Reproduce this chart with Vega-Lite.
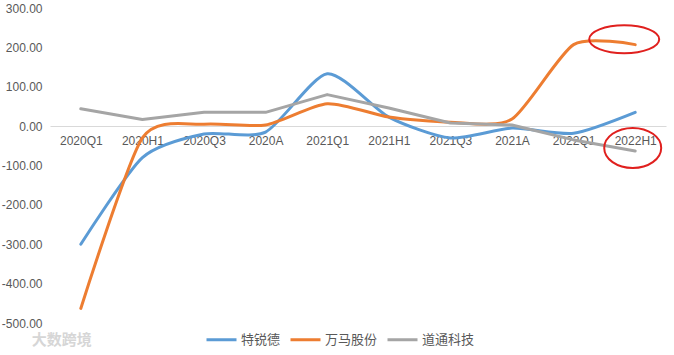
{
  "$schema": "https://vega.github.io/schema/vega-lite/v6.json",
  "width": 616,
  "height": 315,
  "autosize": {"type": "none"},
  "padding": {"left": 50, "top": 8, "right": 8, "bottom": 32},
  "background": "white",
  "config": {
    "view": {"stroke": null},
    "font": "Liberation Sans"
  },
  "datasets": {
    "series": [
      {"period": "2020Q1", "company": "特锐德", "value": -300},
      {"period": "2020H1", "company": "特锐德", "value": -80},
      {"period": "2020Q3", "company": "特锐德", "value": -20},
      {"period": "2020A", "company": "特锐德", "value": -15},
      {"period": "2021Q1", "company": "特锐德", "value": 133},
      {"period": "2021H1", "company": "特锐德", "value": 23},
      {"period": "2021Q3", "company": "特锐德", "value": -30},
      {"period": "2021A", "company": "特锐德", "value": -5},
      {"period": "2022Q1", "company": "特锐德", "value": -18},
      {"period": "2022H1", "company": "特锐德", "value": 35},
      {"period": "2020Q1", "company": "万马股份", "value": -463},
      {"period": "2020H1", "company": "万马股份", "value": -30},
      {"period": "2020Q3", "company": "万马股份", "value": 5},
      {"period": "2020A", "company": "万马股份", "value": 3},
      {"period": "2021Q1", "company": "万马股份", "value": 57},
      {"period": "2021H1", "company": "万马股份", "value": 23},
      {"period": "2021Q3", "company": "万马股份", "value": 10},
      {"period": "2021A", "company": "万马股份", "value": 18},
      {"period": "2022Q1", "company": "万马股份", "value": 207},
      {"period": "2022H1", "company": "万马股份", "value": 207},
      {"period": "2020Q1", "company": "道通科技", "value": 44},
      {"period": "2020H1", "company": "道通科技", "value": 17},
      {"period": "2020Q3", "company": "道通科技", "value": 35},
      {"period": "2020A", "company": "道通科技", "value": 35},
      {"period": "2021Q1", "company": "道通科技", "value": 80},
      {"period": "2021H1", "company": "道通科技", "value": 46},
      {"period": "2021Q3", "company": "道通科技", "value": 8},
      {"period": "2021A", "company": "道通科技", "value": 3},
      {"period": "2022Q1", "company": "道通科技", "value": -35},
      {"period": "2022H1", "company": "道通科技", "value": -63}
    ]
  },
  "encoding": {
    "x": {
      "field": "period",
      "type": "ordinal",
      "sort": ["2020Q1", "2020H1", "2020Q3", "2020A", "2021Q1", "2021H1", "2021Q3", "2021A", "2022Q1", "2022H1"],
      "scale": {"type": "point", "padding": 0.5},
      "axis": {
        "title": null,
        "offset": -197,
        "labelAngle": 0,
        "ticks": false,
        "grid": false,
        "domain": true,
        "domainColor": "#d9d9d9",
        "domainWidth": 1,
        "labelPadding": 9,
        "labelFontSize": 12,
        "labelColor": "#595959",
        "labelFont": "Liberation Sans"
      }
    },
    "y": {
      "field": "value",
      "type": "quantitative",
      "scale": {"domain": [-500, 300], "nice": false, "zero": false},
      "axis": {
        "title": null,
        "values": [-500, -400, -300, -200, -100, 0, 100, 200, 300],
        "grid": false,
        "domain": false,
        "ticks": false,
        "labelPadding": 8,
        "labelFontSize": 12,
        "labelColor": "#595959",
        "labelFont": "Liberation Sans",
        "labelExpr": "replace(format(datum.value, '.2f'), '\u2212', '-')"
      }
    }
  },
  "layer": [
    {
      "data": {"name": "series"},
      "transform": [{"filter": "datum.company !== '道通科技'"}],
      "mark": {"type": "line", "interpolate": "cardinal", "tension": 0.3, "strokeWidth": 3, "strokeCap": "round"},
      "encoding": {
        "color": {
          "field": "company",
          "type": "nominal",
          "scale": {"domain": ["特锐德", "万马股份", "道通科技"], "range": ["#5B9BD5", "#ED7D31", "#A5A5A5"]},
          "legend": {
            "title": null,
            "orient": "none",
            "direction": "horizontal",
            "legendX": 155,
            "legendY": 315,
            "padding": 0,
            "symbolType": "stroke",
            "symbolSize": 900,
            "symbolStrokeWidth": 3,
            "labelFont": "Noto Sans CJK SC",
            "labelFontSize": 13,
            "labelColor": "#595959",
            "labelOffset": 3,
            "columnPadding": 3
          }
        }
      }
    },
    {
      "data": {"name": "series"},
      "transform": [{"filter": "datum.company === '道通科技'"}],
      "mark": {"type": "line", "interpolate": "linear", "strokeWidth": 3, "strokeCap": "round", "strokeJoin": "round"},
      "encoding": {
        "color": {
          "field": "company",
          "type": "nominal",
          "scale": {"domain": ["特锐德", "万马股份", "道通科技"], "range": ["#5B9BD5", "#ED7D31", "#A5A5A5"]}
        }
      }
    },
    {
      "data": {"values": [{"period": "2022H1", "value": 207}]},
      "mark": {
        "type": "point",
        "filled": false,
        "stroke": "#E0201E",
        "strokeWidth": 2,
        "size": 4900,
        "opacity": 1,
        "shape": "M 0.686 -0.154 C 0.686 0.067 0.238 0.246 -0.314 0.246 C -0.866 0.246 -1.314 0.067 -1.314 -0.154 C -1.314 -0.375 -0.866 -0.554 -0.314 -0.554 C 0.238 -0.554 0.686 -0.375 0.686 -0.154 Z"
      }
    },
    {
      "data": {"values": [{"period": "2022H1", "value": -63}]},
      "mark": {
        "type": "point",
        "filled": false,
        "stroke": "#E0201E",
        "strokeWidth": 2,
        "size": 4900,
        "opacity": 1,
        "shape": "M 0.743 -0.086 C 0.743 0.230 0.379 0.485 -0.071 0.485 C -0.521 0.485 -0.885 0.230 -0.885 -0.086 C -0.885 -0.402 -0.521 -0.657 -0.071 -0.657 C 0.379 -0.657 0.743 -0.402 0.743 -0.086 Z"
      }
    },
    {
      "data": {"values": [{"period": "2020Q1", "value": -543, "label": "大数跨境"}]},
      "mark": {
        "type": "text",
        "font": "Noto Sans CJK SC",
        "fontSize": 15,
        "fontWeight": "bold",
        "color": "#d6d6d6",
        "baseline": "middle",
        "align": "center",
        "dx": -19
      },
      "encoding": {"text": {"field": "label"}}
    }
  ]
}
